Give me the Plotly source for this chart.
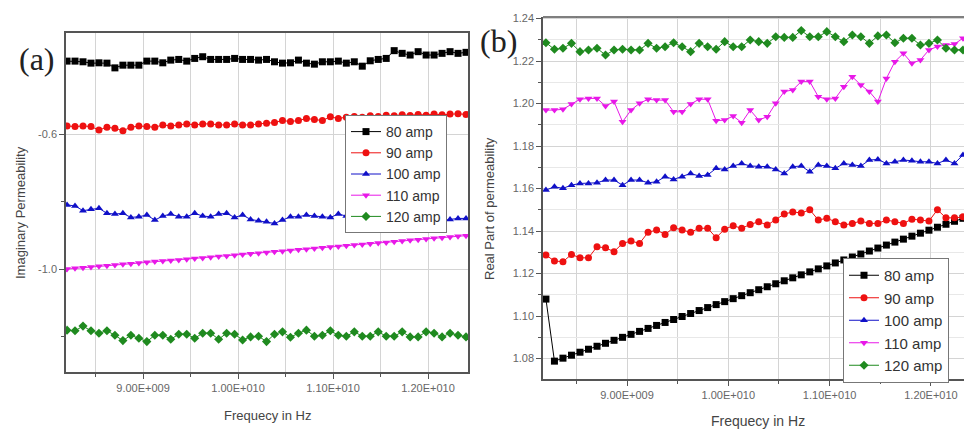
import plotly.graph_objects as go

# Frequency sample grid (Hz), 8.2 - 12.4 GHz, 51 points
freq_hz = [round(8.2 + 0.084 * i, 3) * 1e9 for i in range(51)]

series_names = ["80 amp", "90 amp", "100 amp", "110 amp", "120 amp"]
series_colors = ["#000000", "#ee1111", "#1010c8", "#e818e8", "#1f8a1f"]
series_symbols = ["square", "circle", "triangle-up", "triangle-down", "diamond"]

# Panel (a): Imaginary permeability
imag_80 = [-0.384, -0.384, -0.386, -0.390, -0.389, -0.390, -0.404, -0.396, -0.396, -0.396,
           -0.384, -0.384, -0.389, -0.381, -0.379, -0.384, -0.376, -0.371, -0.379, -0.379,
           -0.379, -0.376, -0.379, -0.379, -0.381, -0.379, -0.386, -0.390, -0.389, -0.381,
           -0.390, -0.393, -0.386, -0.386, -0.384, -0.390, -0.386, -0.399, -0.383, -0.379,
           -0.376, -0.353, -0.361, -0.366, -0.356, -0.366, -0.366, -0.361, -0.356, -0.361, -0.358]
imag_90 = [-0.576, -0.578, -0.576, -0.578, -0.588, -0.580, -0.583, -0.590, -0.580, -0.576,
           -0.578, -0.580, -0.573, -0.576, -0.573, -0.570, -0.573, -0.570, -0.570, -0.573,
           -0.573, -0.570, -0.573, -0.573, -0.570, -0.568, -0.566, -0.560, -0.563, -0.560,
           -0.554, -0.557, -0.560, -0.549, -0.554, -0.550, -0.548, -0.550, -0.546, -0.548,
           -0.544, -0.546, -0.543, -0.545, -0.542, -0.544, -0.541, -0.543, -0.541, -0.540, -0.542]
imag_100 = [-0.810, -0.813, -0.827, -0.823, -0.820, -0.835, -0.837, -0.835, -0.847, -0.845,
            -0.840, -0.855, -0.843, -0.837, -0.845, -0.845, -0.835, -0.843, -0.845, -0.837,
            -0.835, -0.847, -0.840, -0.853, -0.857, -0.860, -0.865, -0.855, -0.845, -0.845,
            -0.840, -0.843, -0.845, -0.847, -0.837, -0.843, -0.845, -0.845, -0.855, -0.860,
            -0.860, -0.870, -0.860, -0.855, -0.850, -0.853, -0.855, -0.857, -0.853, -0.850, -0.850]
imag_110 = [-1.000, -0.998, -0.996, -0.994, -0.992, -0.990, -0.988, -0.986, -0.984, -0.982,
            -0.980, -0.978, -0.976, -0.975, -0.973, -0.971, -0.969, -0.967, -0.965, -0.963,
            -0.961, -0.959, -0.957, -0.955, -0.953, -0.951, -0.949, -0.947, -0.945, -0.943,
            -0.941, -0.939, -0.937, -0.935, -0.933, -0.931, -0.929, -0.927, -0.925, -0.923,
            -0.921, -0.919, -0.917, -0.915, -0.913, -0.911, -0.909, -0.907, -0.905, -0.903, -0.901]
imag_120 = [-1.181, -1.183, -1.169, -1.183, -1.190, -1.183, -1.196, -1.212, -1.196, -1.205,
            -1.215, -1.196, -1.196, -1.208, -1.193, -1.193, -1.205, -1.190, -1.190, -1.208,
            -1.190, -1.193, -1.210, -1.201, -1.199, -1.215, -1.193, -1.186, -1.202, -1.190,
            -1.181, -1.199, -1.196, -1.183, -1.196, -1.199, -1.186, -1.199, -1.199, -1.186,
            -1.199, -1.199, -1.186, -1.201, -1.201, -1.186, -1.190, -1.201, -1.190, -1.196, -1.201]

# Panel (b): Real part of permeability
real_80 = [1.1080, 1.0788, 1.0802, 1.0816, 1.0830, 1.0844, 1.0858, 1.0872, 1.0886, 1.0900,
           1.0914, 1.0928, 1.0942, 1.0956, 1.0970, 1.0984, 1.0998, 1.1012, 1.1026, 1.1040,
           1.1054, 1.1068, 1.1082, 1.1096, 1.1110, 1.1124, 1.1138, 1.1152, 1.1166, 1.1180,
           1.1194, 1.1208, 1.1222, 1.1236, 1.1250, 1.1264, 1.1278, 1.1292, 1.1306, 1.1320,
           1.1334, 1.1348, 1.1362, 1.1376, 1.1390, 1.1404, 1.1418, 1.1432, 1.1446, 1.1460, 1.1474]
real_90 = [1.1287, 1.1259, 1.1256, 1.1290, 1.1274, 1.1274, 1.1326, 1.1321, 1.1303, 1.1342,
           1.1353, 1.1342, 1.1394, 1.1405, 1.1384, 1.1416, 1.1405, 1.1394, 1.1413, 1.1413,
           1.1369, 1.1409, 1.1425, 1.1413, 1.1431, 1.1444, 1.1428, 1.1452, 1.1480, 1.1490,
           1.1485, 1.1500, 1.1452, 1.1460, 1.1444, 1.1428, 1.1436, 1.1447, 1.1436, 1.1436,
           1.1452, 1.1444, 1.1436, 1.1456, 1.1452, 1.1447, 1.1500, 1.1462, 1.1462, 1.1467, 1.1470]
real_100 = [1.1593, 1.1608, 1.1601, 1.1616, 1.1624, 1.1624, 1.1627, 1.1640, 1.1640, 1.1616,
            1.1640, 1.1640, 1.1627, 1.1632, 1.1656, 1.1643, 1.1656, 1.1671, 1.1659, 1.1664,
            1.1695, 1.1690, 1.1706, 1.1718, 1.1706, 1.1703, 1.1703, 1.1690, 1.1671, 1.1703,
            1.1706, 1.1679, 1.1711, 1.1706, 1.1695, 1.1718, 1.1711, 1.1706, 1.1734, 1.1737,
            1.1718, 1.1726, 1.1734, 1.1731, 1.1726, 1.1726, 1.1718, 1.1734, 1.1718, 1.1758, 1.1770]
real_110 = [1.1969, 1.1969, 1.1973, 1.1998, 1.2020, 1.2024, 1.2024, 1.1988, 1.2009, 1.1914,
            1.1969, 1.2001, 1.2020, 1.2016, 1.2016, 1.1961, 1.1961, 1.1998, 1.2020, 1.2020,
            1.1919, 1.1922, 1.1941, 1.1910, 1.1969, 1.1922, 1.1938, 1.2001, 1.2056, 1.2064,
            1.2103, 1.2103, 1.2032, 1.2020, 1.2024, 1.2079, 1.2126, 1.2087, 1.2056, 1.2009,
            1.2118, 1.2197, 1.2236, 1.2189, 1.2205, 1.2252, 1.2268, 1.2275, 1.2280, 1.2307, 1.2320]
real_120 = [1.2286, 1.2255, 1.2260, 1.2283, 1.2244, 1.2252, 1.2260, 1.2228, 1.2252, 1.2255,
            1.2252, 1.2252, 1.2283, 1.2260, 1.2267, 1.2286, 1.2267, 1.2244, 1.2283, 1.2267,
            1.2255, 1.2291, 1.2267, 1.2267, 1.2299, 1.2291, 1.2283, 1.2314, 1.2311, 1.2311,
            1.2343, 1.2314, 1.2314, 1.2338, 1.2314, 1.2291, 1.2322, 1.2314, 1.2283, 1.2318,
            1.2322, 1.2286, 1.2307, 1.2307, 1.2275, 1.2283, 1.2299, 1.2260, 1.2252, 1.2252, 1.2255]

x_tick_vals = [9.0e9, 1.0e10, 1.1e10, 1.2e10]
x_tick_text = ["9.00E+009", "1.00E+010", "1.10E+010", "1.20E+010"]
x_minor_vals = [8.5e9, 9.5e9, 1.05e10, 1.15e10]
ya_tick_vals = [-0.6, -1.0]
ya_tick_text = ["-0.6", "-1.0"]
ya_minor_vals = [-0.8, -1.2]
yb_tick_vals = [1.08, 1.10, 1.12, 1.14, 1.16, 1.18, 1.20, 1.22, 1.24]

W, H = 964, 430
def px(x):
    return x / W
def py(y):
    return 1 - y / H

fig = go.Figure()

imag = [imag_80, imag_90, imag_100, imag_110, imag_120]
real = [real_80, real_90, real_100, real_110, real_120]

for name, col, sym, ys in zip(series_names, series_colors, series_symbols, imag):
    fig.add_trace(go.Scatter(
        x=freq_hz, y=ys, name=name, mode="lines+markers",
        line=dict(color=col, width=1),
        marker=dict(symbol=sym, size=7, color=col),
        xaxis="x", yaxis="y", legend="legend"))

for name, col, sym, ys in zip(series_names, series_colors, series_symbols, real):
    fig.add_trace(go.Scatter(
        x=freq_hz, y=ys, name=name, mode="lines+markers",
        line=dict(color=col, width=1),
        marker=dict(symbol=sym, size=7, color=col),
        xaxis="x2", yaxis="y2", legend="legend2"))

axis_line = "#555555"
grid_col = "#d4d4d4"
minor_grid = "#e8e8e8"
tick_font = dict(family="Liberation Sans, Arial, sans-serif", size=11, color="#666666")

common_x = dict(
    tickvals=x_tick_vals, ticktext=x_tick_text, ticks="outside", ticklen=5,
    tickcolor=axis_line, showline=True, linecolor=axis_line, linewidth=1.5,
    showgrid=True, gridcolor=grid_col, gridwidth=1, zeroline=False,
    tickfont=tick_font,
    minor=dict(tickvals=x_minor_vals, ticks="outside", ticklen=3, tickcolor=axis_line,
               showgrid=True, gridcolor=grid_col, gridwidth=1),
)

fig.update_layout(
    width=W, height=H,
    margin=dict(l=0, r=0, t=0, b=0, autoexpand=False),
    paper_bgcolor="white", plot_bgcolor="white",
    font=dict(family="Liberation Sans, Arial, sans-serif", color="#444444"),
    xaxis=dict(domain=[px(66), px(468)], range=[8.189e9, 12.421e9], anchor="y",
               mirror=True, **common_x),
    yaxis=dict(domain=[py(372), py(33)], range=[-1.305, -0.3007], anchor="x",
               tickvals=ya_tick_vals, ticktext=ya_tick_text, ticks="outside", ticklen=5,
               tickcolor=axis_line, showline=True, linecolor=axis_line, linewidth=1.5,
               mirror=True, showgrid=True, gridcolor=grid_col, zeroline=False,
               tickfont=tick_font,
               minor=dict(tickvals=ya_minor_vals, ticks="outside", ticklen=3,
                          tickcolor=axis_line, showgrid=False)),
    xaxis2=dict(domain=[px(543), 1.0], range=[8.171e9, 12.326e9], anchor="y2", **common_x),
    yaxis2=dict(domain=[py(379), py(17)], range=[1.0704, 1.2407], anchor="x2",
                tickvals=yb_tick_vals, tickformat=".2f", ticks="outside", ticklen=5,
                tickcolor=axis_line, showline=True, linecolor=axis_line, linewidth=1.5,
                showgrid=True, gridcolor=grid_col, zeroline=False, tickfont=tick_font,
                minor=dict(dtick=0.01, tick0=1.07, ticks="outside", ticklen=3,
                           tickcolor=axis_line, showgrid=True, gridcolor=minor_grid)),
    legend=dict(x=px(345), y=py(115), xanchor="left", yanchor="top",
                bgcolor="white", bordercolor="#777777", borderwidth=1,
                font=dict(size=14, color="#333333"), tracegroupgap=0,
                itemwidth=30),
    legend2=dict(x=px(843), y=py(258), xanchor="left", yanchor="top",
                 bgcolor="white", bordercolor="#777777", borderwidth=1,
                 font=dict(size=15, color="#333333"), tracegroupgap=0,
                 itemwidth=30),
    showlegend=True,
)

# top border of panel (b) (right edge is cut off in the reference)
fig.add_shape(type="line", xref="x2 domain", yref="y2 domain", x0=0, x1=1, y0=1, y1=1,
              line=dict(color=axis_line, width=1.5))

annots = [
    dict(text="(a)", x=px(37), y=py(59), font=dict(family="Liberation Serif, Times New Roman, serif", size=32, color="#222222")),
    dict(text="(b)", x=px(498), y=py(41), font=dict(family="Liberation Serif, Times New Roman, serif", size=32, color="#222222")),
    dict(text="Imaginary Permeability", x=px(20), y=py(213), textangle=-90,
         font=dict(size=13, color="#444444")),
    dict(text="Real Part of permeability", x=px(490), y=py(209), textangle=-90,
         font=dict(size=13, color="#444444")),
    dict(text="Frequecy in Hz", x=px(267), y=py(415), font=dict(size=13, color="#444444")),
    dict(text="Frequecy in Hz", x=px(758), y=py(421), font=dict(size=14, color="#444444")),
]
for a in annots:
    fig.add_annotation(xref="paper", yref="paper", showarrow=False,
                       xanchor="center", yanchor="middle", **a)

fig.write_html("out.html",
               config={"displayModeBar": False},
               post_script="document.body.style.margin='0';document.body.style.overflow='hidden';")
